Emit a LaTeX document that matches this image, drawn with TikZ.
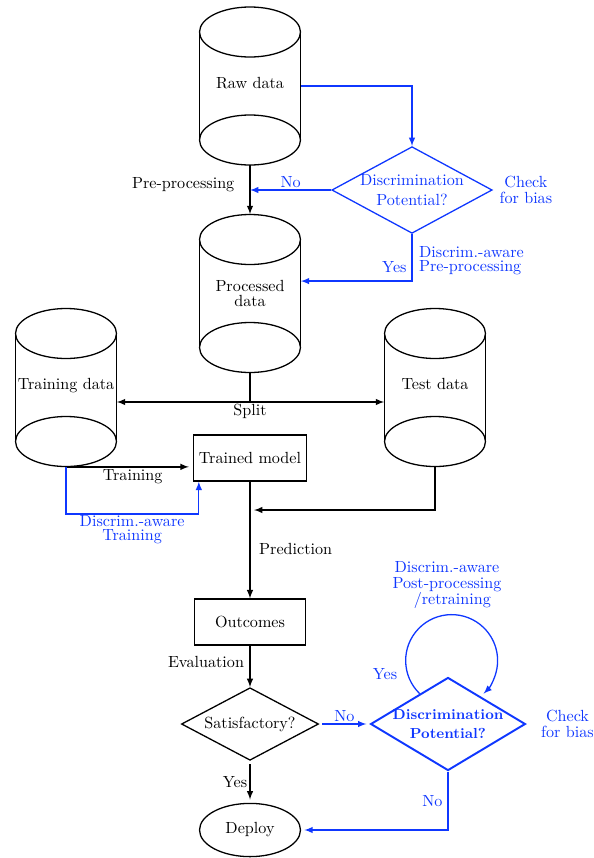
\documentclass[tikz,border=0pt]{standalone}
\usetikzlibrary{shapes.geometric,positioning}

\definecolor{biasblue}{RGB}{15,55,255}

\tikzset{
  cylbox/.style={rectangle,minimum width=62.6pt,minimum height=98pt,inner sep=0pt,align=center},
  stepbox/.style={rectangle,draw,thick,minimum width=68.8pt,minimum height=28.5pt},
  decide/.style={diamond,draw,thick,aspect=1.85,inner sep=0pt,align=center},
  arr/.style={thick,-latex},
  barr/.style={thick,biasblue,-latex},
  bnote/.style={biasblue,align=center,inner sep=1pt,font=\linespread{0.85}\selectfont},
  tightnote/.style={bnote,font=\linespread{0.72}\selectfont}
}

% data store: name, x, y, label
\newcommand{\datacyl}[4]{
  \node[cylbox] (#1) at (#2,#3) {#4};
  \draw[thick] (#2,#3-54) ellipse [x radius=31.3pt, y radius=15.5pt];
  \draw[thick] (#2,#3+54) ellipse [x radius=31.3pt, y radius=15.5pt];
  \draw[thick] (#2-50.5,#3-54) -- (#2-50.5,#3+54);
  \draw[thick] (#2+50.5,#3-54) -- (#2+50.5,#3+54);
}

\begin{document}
\begin{tikzpicture}[x=0.62pt,y=-0.62pt]
\useasboundingbox (0,0) rectangle (594,858);

% stores
\datacyl{raw}{250}{86}{Raw data\\[-8pt]}
\datacyl{proc}{250}{293.5}{Processed\\[-3pt]data}
\datacyl{train}{66}{387.5}{Training data\\[-8pt]}
\datacyl{test}{435}{387.5}{Test data\\[-8pt]}

% steps
\node[stepbox] (model) at (250,458) {Trained model};
\node[stepbox] (outcomes) at (250,622) {Outcomes};
\node[decide,minimum width=85pt,minimum height=45pt] (satis) at (250,724) {Satisfactory?};
\node[ellipse,draw,thick,minimum width=62.6pt,minimum height=33pt] (deploy) at (250,830) {Deploy};

% bias checks
\node[decide,biasblue,minimum width=96pt,minimum height=53pt] (checkA) at (412,190) {Discrimination\\Potential?};
\node[decide,biasblue,line width=1.2pt,inner sep=-3pt,minimum width=96pt,minimum height=57.7pt,
      font=\small\bfseries] (checkB) at (448,724) {Discrimination\\[1pt]Potential?};
\node[bnote,right=3pt of checkA] {Check\\for bias};
\node[bnote,right=8pt of checkB] {Check\\for bias};

% pre-processing
\draw[barr] (raw.east) -| (checkA.north);
\draw[arr] (raw.south) -- (proc.north) node[pos=0.4,left=6pt] {Pre-processing};
\draw[barr] (checkA.west) -- (checkA.west -| proc.north) node[midway,above,bnote] {No};
\draw[barr] (checkA.south) |- ([yshift=7.7pt]proc.east)
  node[pos=0.35,left=2pt,bnote] {Yes}
  node[pos=0.28,right=3pt,tightnote,align=left] {Discrim.-aware\\Pre-processing};

% split
\draw[thick] (proc.south) -- (250,402) coordinate (splitpt);
\draw[thick,latex-latex] (train.east |- splitpt) -- (test.west |- splitpt);
\node[below=-2pt of splitpt] {Split};

% training
\draw[arr,shorten >=2.5pt] (train.south) -- (train.south -| model.west) node[midway,below=-2pt,xshift=2pt] {Training};
\draw[barr] (train.south) -- ++(0,47) coordinate (fairtr) -| ([xshift=3.7pt]model.south west);
\node[tightnote,below=0pt of fairtr,xshift=41pt] {Discrim.-aware\\Training};

% prediction
\coordinate (predpt) at (254,510);
\draw[arr] (test.south) |- (predpt);
\draw[arr] (model.south) -- (outcomes.north) node[pos=0.58,right=2pt] {Prediction};
\draw[arr] (outcomes.south) -- (satis.north) node[pos=0.4,left=0pt] {Evaluation};

% evaluation
\draw[barr,shorten <=2pt,shorten >=2pt] (satis.east) -- (checkB.west) node[midway,above,bnote] {No};
\draw[arr,shorten <=2pt,shorten >=2pt] (satis.south) -- (deploy.north) node[midway,left,xshift=2pt] {Yes};
\draw[barr] (checkB.south) |- ([xshift=2pt]deploy.east) node[pos=0.25,left=2pt,bnote] {No};
\draw[barr] (checkB.133) arc[start angle=226,end angle=-46,radius=28.5pt];
\node[bnote] at (385,674) {Yes};
\node[bnote] at (447,585) {Discrim.-aware\\Post-processing\\\ \ /retraining};

\end{tikzpicture}
\end{document}
